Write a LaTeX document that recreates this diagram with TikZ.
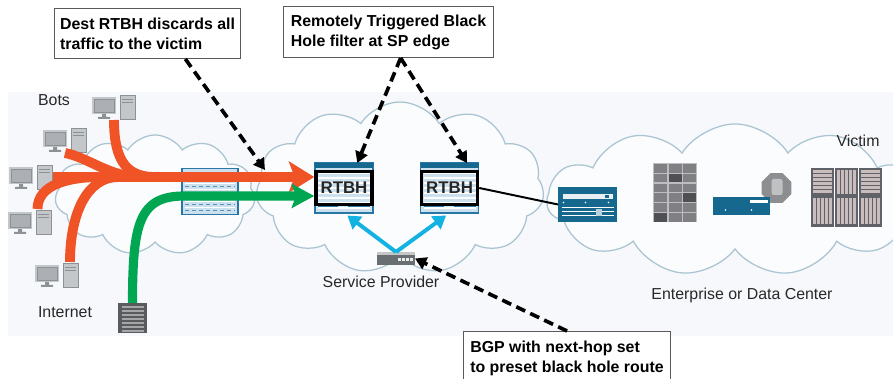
\documentclass[tikz,border=0pt]{standalone}
\usepackage{fontspec}
\setmainfont{Liberation Sans}
\usetikzlibrary{positioning, arrows.meta, shapes.symbols, shapes.geometric, calc}

\definecolor{bandbg}{RGB}{247,248,251}
\definecolor{cloudline}{RGB}{170,196,210}
\definecolor{cloudfill}{RGB}{251,252,253}
\definecolor{attackred}{RGB}{240,83,37}
\definecolor{legitgreen}{RGB}{0,166,81}
\definecolor{bgpblue}{RGB}{20,178,226}
\definecolor{devteal}{RGB}{22,104,142}
\definecolor{routeredge}{RGB}{40,118,165}
\definecolor{routerfill}{RGB}{205,224,238}
\definecolor{pcbody}{RGB}{196,199,202}
\definecolor{pcscreen}{RGB}{172,176,180}
\definecolor{pcedge}{RGB}{140,145,150}
\definecolor{servergray}{RGB}{88,90,94}
\definecolor{brickline}{RGB}{190,190,192}
\definecolor{brickfill}{RGB}{128,128,132}
\definecolor{brickdark}{RGB}{78,80,84}
\definecolor{stopgray}{RGB}{140,142,146}
\definecolor{rackframe}{RGB}{95,99,105}
\definecolor{rackinner}{RGB}{200,188,188}
\definecolor{devgray}{RGB}{105,110,115}
\definecolor{labelgray}{RGB}{40,40,40}
\definecolor{calloutline}{RGB}{90,90,90}

\tikzset{
  iconbox/.style={inner sep=0pt, outer sep=0pt},
  cloudy/.style={
    cloud,
    cloud puffs=11,
    cloud puff arc=115,
    draw=cloudline,
    line width=0.9pt,
    fill=cloudfill,
    inner sep=0pt
  },
  attackline/.style={attackred, line width=7pt},
  attack/.style={attackline, -{Stealth[length=18pt, width=22pt, inset=4pt]}},
  legit/.style={legitgreen, line width=6.5pt, -{Stealth[length=16pt, width=17pt, inset=3pt]}},
  bgplink/.style={bgpblue, line width=2.8pt, -{Triangle[length=9pt, width=11pt]}},
  pointer/.style={
    black,
    line width=2.6pt,
    dash pattern=on 7pt off 4pt,
    -{Triangle[length=8pt, width=9pt]}
  },
  rtbh/.style={
    draw=black,
    line width=2.5pt,
    minimum width=1.4cm,
    minimum height=0.82cm,
    inner sep=0pt,
    font=\fontsize{12}{14}\selectfont\bfseries,
    text=black!85
  },
  callout/.style={
    draw=calloutline,
    line width=0.7pt,
    fill=white,
    align=left,
    anchor=north west,
    inner xsep=4pt,
    font=\fontsize{11.3}{14.2}\selectfont\bfseries
  },
  lbl/.style={font=\fontsize{11.3}{14}\selectfont, text=labelgray, inner sep=1pt},
  botpc/.pic={
    \fill[pcbody] (-22,-10) rectangle (2,7);
    \draw[pcedge, fill=pcscreen, line width=0.6pt] (-20,-8) rectangle (0,5);
    \fill[pcedge] (-12,7) rectangle (-8,10) (-16,10) rectangle (-4,12);
    \draw[pcedge, fill=pcbody, line width=0.6pt] (6,-12) rectangle (21,12);
    \draw[pcedge, line width=0.6pt] (8,-8) -- (19,-8) (8,-5) -- (19,-5);
    \path node[iconbox, minimum width=1.1cm, minimum height=0.65cm] (-box) {};
  },
  rackserver/.pic={
    \fill[servergray] (-14.5,-15) rectangle (14.5,15);
    \foreach \yy in {-11,-7,...,13}
      \draw[gray!70, line width=0.8pt] (-11,\yy) -- (11,\yy);
    \path node[iconbox, minimum width=0.725cm, minimum height=0.75cm] (-box) {};
  },
  borderfw/.pic={
    \draw[routeredge, fill=routerfill, line width=1.1pt] (-28,-23) rectangle (28,23);
    \foreach \yy in {-14,-8,...,16}
      \draw[white, line width=1.3pt] (-25,\yy) -- (25,\yy);
    \foreach \yy in {-11,-5,...,19}
      \draw[routeredge!80, line width=0.5pt, dash pattern=on 3pt off 2pt] (-25,\yy) -- (25,\yy);
    \path node[iconbox, minimum width=1.4cm, minimum height=1.175cm] (-box) {};
  },
  edgerouter/.pic={
    \draw[routeredge, fill=routerfill, line width=0.8pt] (-29,-25) rectangle (29,25);
    \fill[devteal] (-29,-25) rectangle (29,-20);
    \foreach \yy in {-15,-10,...,20}
      \draw[white, line width=1.2pt] (-26,\yy) -- (26,\yy);
    \draw[routeredge, line width=0.6pt] (-26,18) -- (-6,18) (4,18) -- (26,18);
    \path node[iconbox, minimum width=1.45cm, minimum height=1.25cm] (-box) {};
  },
  entrouter/.pic={
    \fill[devteal] (-29.5,-17.5) rectangle (29.5,17.5);
    \fill[white!90!devteal] (-25,-10) rectangle (25,-5);
    \fill[devteal] (17,-9) rectangle (21,-6);
    \fill[white] (-24,-2) circle (0.7pt) (-2,-2) circle (0.7pt) (21,-2) circle (0.7pt);
    \draw[white, line width=0.5pt] (-26,3) -- (26,3) (-26,7) -- (26,7) (-26,11) -- (26,11);
    \fill[white!70!devteal] (8,5) rectangle (14,12);
    \path node[iconbox, minimum width=1.475cm, minimum height=0.875cm] (-box) {};
  },
  brickwall/.pic={
    \fill[brickline] (-22,-29.5) rectangle (22,29.5);
    \foreach \r in {0,...,5}
      \foreach \c in {0,1,2}
        \fill[brickfill] (-21+\c*14.5,-28.5+\r*9.8) rectangle ++(13.3,8.6);
    \foreach \r/\c in {1/1,3/2,5/0}
      \fill[brickdark] (-21+\c*14.5,-28.5+\r*9.8) rectangle ++(13.3,8.6);
    \path node[iconbox, minimum width=1.1cm, minimum height=1.475cm] (-box) {};
  },
  ipsdev/.pic={
    \path node[regular polygon, regular polygon sides=8, minimum size=0.8cm,
      fill=stopgray, inner sep=0pt] (-stop) at (35,-18) {};
    \fill[stopgray!55!white, rounded corners=1.5pt] (30,-27) rectangle (41,-11);
    \fill[devteal] (-28.5,-9) rectangle (28.5,9);
    \fill[white] (8,-6) rectangle (26,-3);
    \fill[white] (-16,4) circle (0.6pt) (10,4) circle (0.6pt);
    \path node[iconbox, minimum width=1.425cm, minimum height=0.45cm] (-box) {};
  },
  victimrack/.pic={
    \foreach \c in {0,1,2} {
      \fill[rackframe] (-36+\c*24,-29.5) rectangle ++(23,59);
      \fill[rackinner] (-34+\c*24,-27) rectangle ++(19,24);
      \fill[rackinner] (-34+\c*24,1) rectangle ++(19,26);
      \foreach \xx in {3,7,...,15}
        \draw[rackframe, line width=0.7pt] (-34+\c*24+\xx,1) -- ++(0,26);
    }
    \foreach \c in {0,2}
      \foreach \yy in {-24,-20,...,-4}
        \draw[rackframe, line width=0.8pt] (-34+\c*24,\yy) -- ++(19,0);
    \foreach \xx in {3,7,...,15}
      \draw[rackframe, line width=0.7pt] (-10+\xx,-27) -- ++(0,24);
    \path node[iconbox, minimum width=1.8cm, minimum height=1.475cm] (-box) {};
  },
  bgpbox/.pic={
    \fill[devgray] (-19,-6.5) rectangle (19,6.5);
    \fill[gray!45] (-19,-6.5) rectangle (19,-3);
    \foreach \xx in {2,6,...,14}
      \fill[white!85!gray] (\xx,0) rectangle ++(2.5,3);
    \path node[iconbox, minimum width=0.95cm, minimum height=0.325cm] (-box) {};
  }
}

\begin{document}
\begin{tikzpicture}[x=0.025cm, y=-0.025cm]
  \useasboundingbox (0,0) rectangle (893,379);
  \fill[bandbg] (8,92) rectangle (893,336);

  \node[cloudy, minimum width=9.4cm, minimum height=3.8cm] (entcloud) at (735,200) {};
  \node[cloudy, minimum width=5cm, minimum height=3cm] (bordercloud) at (155,195) {};
  \node[cloudy, minimum width=7.2cm, minimum height=4.3cm] (spcloud) at (400,188) {};

  \pic (bot1) at (114,107) {botpc};
  \pic (bot2) at (65,140) {botpc};
  \pic (bot3) at (31,177) {botpc};
  \pic (bot4) at (30,222) {botpc};
  \pic (bot5) at (57,275) {botpc};
  \pic (inet) at (132.5,318) {rackserver};
  \pic (borderfw) at (210,191.5) {borderfw};
  \pic (edgeA) at (344,188) {edgerouter};
  \pic (edgeB) at (449.5,188) {edgerouter};
  \pic (bgpdev) at (396,258.5) {bgpbox};
  \pic (entrtr) at (587.5,204.5) {entrouter};
  \pic (wall) at (675,192.5) {brickwall};
  \pic (ips) at (741.5,206) {ipsdev};
  \pic (victim) at (847,197.5) {victimrack};

  \node[rtbh] (rtbhA) at (edgeA-box) {RTBH};
  \node[rtbh] (rtbhB) at (edgeB-box) {RTBH};

  \coordinate (join1) at (155,177);
  \coordinate (join2) at (140,177);
  \coordinate (join4) at (100,177);
  \coordinate (join5) at (118,177);
  \draw[attackline] (bot1-box.south) .. controls +(0,45) and +(-25,0) .. (join1);
  \draw[attackline] (bot2-box.south) .. controls +(22,4) and +(-30,0) .. (join2);
  \draw[attackline] (bot4-box.60) .. controls +(0,-25) and +(-30,0) .. (join4);
  \draw[attackline] (bot5-box.45) .. controls +(0,-50) and +(-30,0) .. (join5);
  \draw[attack] (bot3-box.east) -- (bot3-box.east -| rtbhA.west);
  \draw[legit] (inet-box.north) .. controls +(0,-80) and +(-45,0) .. ($(rtbhA.west)+(-130,8)$) -- ($(rtbhA.west)+(0,8)$);

  \draw[bgplink, shorten >=3pt] (bgpdev-box.north) -- (edgeA-box.south);
  \draw[bgplink, shorten >=3pt] (bgpdev-box.north) -- (edgeB-box.south);
  \draw[black, line width=1.4pt] (rtbhB.east) -- (entrtr-box.west);

  \node[callout, minimum width=4.625cm, minimum height=1.25cm] (rtbhnote) at (54,8) {Dest RTBH discards all\\traffic to the victim};
  \node[callout, minimum width=5.25cm, minimum height=1.275cm] (filternote) at (283,6) {Remotely Triggered Black\\Hole filter at SP edge};
  \node[callout, minimum width=5.175cm, minimum height=1.35cm] (bgpnote) at (463,331) {BGP with next-hop set\\to preset black hole route};

  \coordinate (discard) at (265,170);
  \draw[pointer] (rtbhnote.326) -- (discard);
  \draw[pointer] (filternote.295) -- (edgeA-box.62);
  \draw[pointer] (filternote.295) -- (edgeB-box.55);
  \draw[pointer] (bgpnote.north) -- (bgpdev-box.east);

  \node[lbl] (botslabel) at (54,100) {Bots};
  \node[lbl] (inetlabel) at (65,312) {Internet};
  \node[lbl, below=0.22cm of bgpdev-box, xshift=-0.375cm] (splabel) {Service Provider};
  \node[lbl] (entlabel) at (742,295) {Enterprise or Data Center};
  \node[lbl] (victimlabel) at (858,141) {Victim};
\end{tikzpicture}
\end{document}
